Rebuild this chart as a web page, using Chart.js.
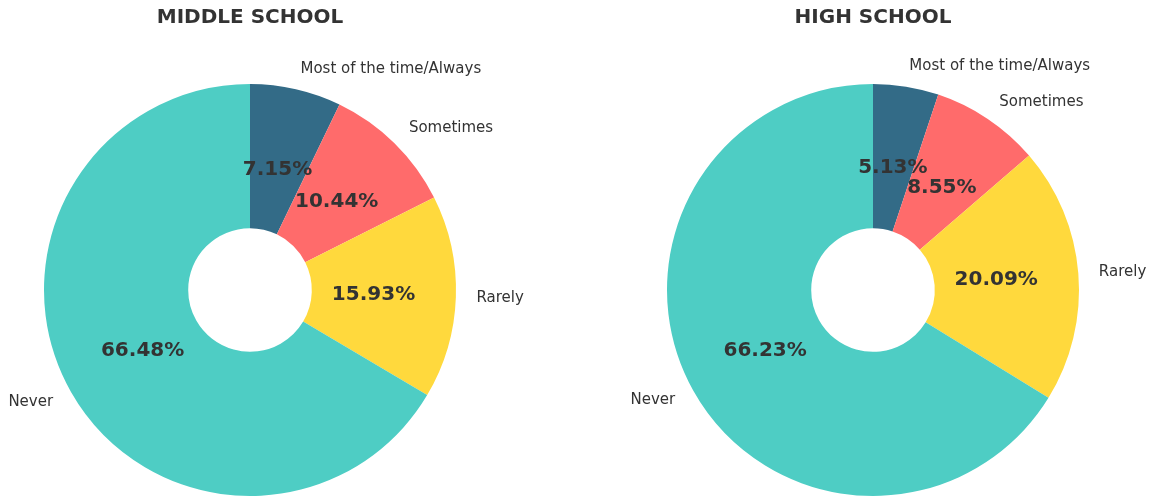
<!DOCTYPE html>
<html>
<head>
<meta charset="utf-8">
<script src="https://cdn.jsdelivr.net/npm/chart.js@4.4.0/dist/chart.umd.min.js"></script>
<style>
  body { margin: 0; background: #fff; }
  .wrap { position: relative; width: 1152px; height: 497px; }
  .box { position: absolute; top: 0; width: 576px; height: 497px; }
</style>
</head>
<body>
<div class="wrap">
  <div class="box" style="left:0"><canvas id="middle"></canvas></div>
  <div class="box" style="left:576px"><canvas id="high"></canvas></div>
</div>
<script>
const categories = ["Most of the time/Always", "Sometimes", "Rarely", "Never"];
const middleValues = [7.15, 10.44, 15.93, 66.48];
const highValues = [5.13, 8.55, 20.09, 66.23];
const colors = ["#336b87", "#ff6b6b", "#ffd93d", "#4ecdc4"];

const FONT = "'DejaVu Sans', sans-serif";

// draws title, outside labels (at 1.1 r) and percentages (at 0.6 r)
const pieText = {
  id: 'pieText',
  afterDraw(chart, args, opts) {
    const ctx = chart.ctx;
    const arcs = chart.getDatasetMeta(0).data;
    const values = chart.data.datasets[0].data;
    ctx.save();
    ctx.fillStyle = '#333333';
    ctx.textBaseline = 'middle';

    const cx = arcs[0].x, cy = arcs[0].y;
    ctx.font = "bold 20px " + FONT;
    ctx.textAlign = 'center';
    ctx.fillText(opts.title, cx, 18);

    arcs.forEach((arc, i) => {
      const mid = (arc.startAngle + arc.endAngle) / 2;
      const r = arc.outerRadius;
      const lx = cx + Math.cos(mid) * r * 1.1;
      const ly = cy + Math.sin(mid) * r * 1.1;
      ctx.font = "15px " + FONT;
      ctx.textAlign = lx >= cx ? 'left' : 'right';
      ctx.fillText(chart.data.labels[i], lx, ly);

      const px = cx + Math.cos(mid) * r * 0.6;
      const py = cy + Math.sin(mid) * r * 0.6;
      ctx.font = "bold 20px " + FONT;
      ctx.textAlign = 'center';
      ctx.fillText(values[i].toFixed(2) + '%', px, py);
    });
    ctx.restore();
  }
};

function makePie(id, values, title, padLeft, padRight) {
  new Chart(document.getElementById(id), {
    type: 'doughnut',
    data: {
      labels: categories,
      datasets: [{
        data: values,
        backgroundColor: colors,
        borderWidth: 0
      }]
    },
    options: {
      responsive: true,
      maintainAspectRatio: false,
      animation: false,
      cutout: '30%',
      layout: { padding: { top: 84, bottom: 1, left: padLeft, right: padRight } },
      plugins: {
        legend: { display: false },
        tooltip: { enabled: false },
        pieText: { title: title }
      }
    },
    plugins: [pieText]
  });
}

makePie('middle', middleValues, 'MIDDLE SCHOOL', 44, 120);
makePie('high', highValues, 'HIGH SCHOOL', 91, 73);
</script>
</body>
</html>
